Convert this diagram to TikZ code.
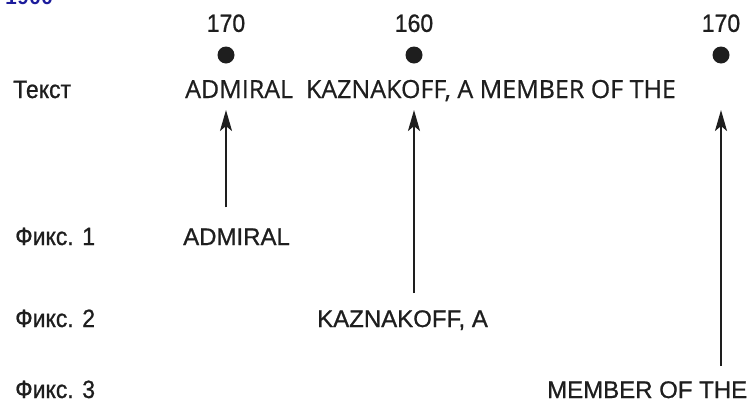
\documentclass[tikz,border=0pt]{standalone}
\usepackage{fontspec}
\setmainfont{Liberation Sans}[FakeBold=0.8]
\newfontfamily\narrowsans[FakeStretch=0.92, FakeBold=0.8]{Liberation Sans}
\newfontfamily\humsans[FakeBold=0.6]{Open Sans}
\newfontfamily\scanmono{Liberation Mono}
\usepackage{xcolor}
\usetikzlibrary{arrows.meta, positioning}
\definecolor{ink}{HTML}{1E1E1E}
\definecolor{pageblue}{HTML}{1C1C9C}

\begin{document}
\begin{tikzpicture}[
    x=1pt, y=-1pt,
    rowlab/.style={anchor=base west, inner sep=0pt, text=ink, font=\narrowsans\fontsize{25}{29}\selectfont},
    numlab/.style={inner sep=0pt, text=ink, font=\narrowsans\fontsize{25}{29}\selectfont},
    fixdot/.style={circle, fill=ink, minimum size=17pt, inner sep=0pt},
    linetext/.style={anchor=base west, inner sep=0pt, text=ink, font=\humsans\fontsize{25}{30}\selectfont},
    fixtext/.style={anchor=base west, inner sep=0pt, text=ink, font=\fontsize{24}{28}\selectfont},
    >={Stealth[length=21pt, width=12pt, inset=5pt]},
    fixarrow/.style={->, line width=2.3pt, draw=ink}
]
    \useasboundingbox (0,0) rectangle (747,405);
    \fill[white] (0,0) rectangle (747,405);
    \node[anchor=base west, inner sep=0pt, text=pageblue, font=\scanmono\bfseries\fontsize{20}{24}\selectfont] (pagenum) at (5,4) {1900};

    % Row labels
    \node[rowlab] (textlab) at (13,98) {Текст};
    \node[rowlab] (fixlabA) at (15,245) {Фикс. 1};
    \node[rowlab] (fixlabB) at (15,327) {Фикс. 2};
    \node[rowlab] (fixlabC) at (15,398) {Фикс. 3};

    % Text line
    \node[linetext] (line) at (185,98) {ADMIRAL\ \ KAZNAKOFF, A MEMBER OF THE};

    % Fixation points
    \node[fixdot] (dotA) at (226,55) {};
    \node[fixdot] (dotB) at (414,55) {};
    \node[fixdot] (dotC) at (721,55) {};
    \node[numlab, above=14pt of dotA] (durA) {170};
    \node[numlab, above=14pt of dotB] (durB) {160};
    \node[numlab, above=14pt of dotC] (durC) {170};

    % Fixated text
    \node[fixtext] (fixA) at (183,245) {ADMIRAL};
    \node[fixtext] (fixB) at (317,327) {KAZNAKOFF, A};
    \node[fixtext] (fixC) at (547,398) {MEMBER OF THE};

    % Arrows
    \draw[fixarrow] ([yshift=21pt]fixA.north -| dotA) -- ([yshift=-12pt]line.base -| dotA);
    \draw[fixarrow] ([yshift=17pt]fixB.north -| dotB) -- ([yshift=-12pt]line.base -| dotB);
    \draw[fixarrow] ([yshift=15pt]fixC.north -| dotC) -- ([yshift=-12pt]line.base -| dotC);
\end{tikzpicture}
\end{document}
